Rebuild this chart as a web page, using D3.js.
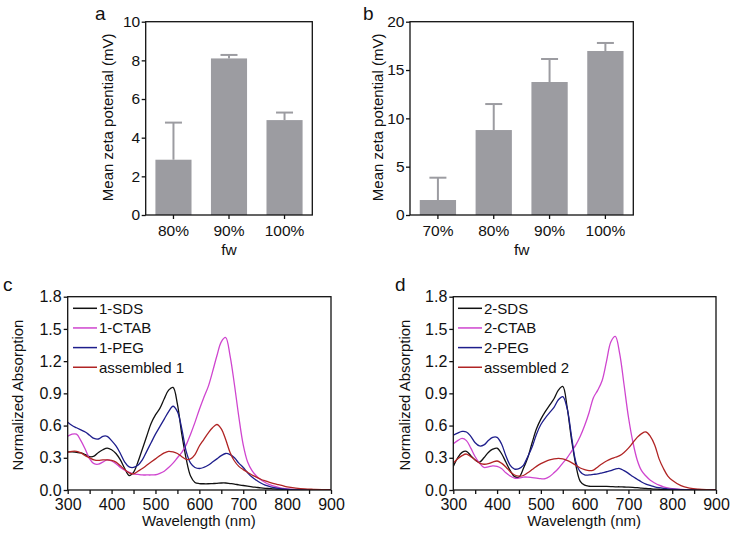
<!DOCTYPE html>
<html><head><meta charset="utf-8">
<script src="https://cdn.jsdelivr.net/npm/d3@7"></script>
<style>
html,body{margin:0;padding:0;background:#fff;}
svg text{font-family:"Liberation Sans",Arial,Helvetica,sans-serif;fill:#111;}
</style></head>
<body><svg id="chart" width="733" height="534"></svg>
<script>
// ---------- DATA ----------
const catsA = ["80%", "90%", "100%"];
const meanA = [2.86, 8.1, 4.91];
const errA  = [1.92, 0.18, 0.39];
const yTicksA = [0, 2, 4, 6, 8, 10];

const catsB = ["70%", "80%", "90%", "100%"];
const meanB = [1.55, 8.79, 13.76, 16.97];
const errB  = [2.31, 2.69, 2.38, 0.83];
const yTicksB = [0, 5, 10, 15, 20];

const wl = [300,310,320,330,340,350,360,370,380,390,400,410,420,430,440,450,460,470,480,490,500,510,520,530,540,550,560,570,580,590,600,610,620,630,640,650,660,670,680,690,700,710,720,730,740,750,760,770,780,790,800,820,840,860,880,900];

const sds1  = [0.355,0.355,0.35,0.345,0.33,0.31,0.315,0.35,0.375,0.39,0.375,0.34,0.28,0.2,0.135,0.165,0.26,0.38,0.5,0.62,0.7,0.76,0.85,0.93,0.955,0.8,0.52,0.29,0.13,0.07,0.06,0.058,0.058,0.06,0.062,0.065,0.065,0.06,0.055,0.048,0.042,0.036,0.03,0.025,0.02,0.016,0.013,0.01,0.008,0.006,0.005,0.003,0.002,0.001,0,0];
const ctab1 = [0.5,0.52,0.52,0.46,0.38,0.29,0.245,0.24,0.26,0.28,0.27,0.245,0.21,0.185,0.165,0.15,0.145,0.14,0.14,0.14,0.142,0.155,0.175,0.21,0.25,0.3,0.35,0.42,0.52,0.63,0.75,0.86,0.96,1.1,1.25,1.38,1.42,1.25,0.98,0.68,0.42,0.26,0.18,0.13,0.095,0.07,0.05,0.035,0.024,0.016,0.01,0.005,0.002,0,0,0];
const peg1  = [0.63,0.6,0.58,0.56,0.54,0.51,0.48,0.475,0.5,0.5,0.46,0.41,0.34,0.26,0.215,0.21,0.23,0.28,0.36,0.44,0.52,0.59,0.66,0.73,0.78,0.73,0.57,0.36,0.25,0.21,0.2,0.21,0.23,0.26,0.29,0.32,0.34,0.33,0.3,0.25,0.21,0.16,0.12,0.09,0.065,0.045,0.032,0.022,0.015,0.01,0.006,0.002,0,0,0,0];
const asm1  = [0.35,0.36,0.36,0.345,0.32,0.3,0.28,0.275,0.28,0.28,0.275,0.26,0.225,0.19,0.16,0.15,0.175,0.2,0.23,0.26,0.29,0.32,0.345,0.36,0.355,0.34,0.31,0.285,0.29,0.33,0.41,0.47,0.53,0.58,0.61,0.57,0.47,0.35,0.27,0.22,0.19,0.165,0.14,0.12,0.1,0.085,0.072,0.06,0.05,0.04,0.03,0.018,0.01,0.006,0.003,0.001];

const sds2  = [0.22,0.3,0.35,0.36,0.32,0.28,0.26,0.3,0.35,0.38,0.39,0.34,0.26,0.18,0.125,0.12,0.2,0.3,0.44,0.57,0.66,0.73,0.79,0.85,0.93,0.965,0.77,0.47,0.23,0.08,0.045,0.035,0.033,0.033,0.033,0.033,0.032,0.03,0.03,0.028,0.027,0.025,0.022,0.018,0.015,0.012,0.009,0.007,0.005,0.004,0.003,0.002,0.001,0,0,0];
const ctab2 = [0.43,0.46,0.48,0.46,0.39,0.31,0.25,0.21,0.215,0.225,0.22,0.2,0.16,0.13,0.11,0.11,0.12,0.12,0.115,0.11,0.105,0.105,0.125,0.16,0.2,0.25,0.3,0.36,0.42,0.5,0.6,0.72,0.86,0.93,1.02,1.2,1.38,1.43,1.27,0.98,0.68,0.45,0.28,0.18,0.13,0.09,0.065,0.045,0.03,0.02,0.013,0.006,0.002,0,0,0];
const peg2  = [0.51,0.53,0.545,0.54,0.5,0.44,0.41,0.42,0.46,0.49,0.49,0.43,0.32,0.23,0.195,0.2,0.23,0.31,0.4,0.52,0.61,0.67,0.72,0.77,0.84,0.87,0.76,0.5,0.26,0.17,0.14,0.14,0.145,0.15,0.16,0.17,0.18,0.195,0.2,0.18,0.155,0.125,0.1,0.075,0.055,0.042,0.03,0.022,0.016,0.011,0.008,0.004,0.002,0.001,0,0];
const asm2  = [0.25,0.29,0.32,0.335,0.31,0.28,0.25,0.24,0.245,0.26,0.27,0.25,0.215,0.17,0.14,0.13,0.135,0.16,0.19,0.22,0.245,0.265,0.28,0.29,0.295,0.29,0.275,0.255,0.23,0.205,0.19,0.18,0.185,0.215,0.245,0.27,0.29,0.305,0.32,0.35,0.39,0.44,0.49,0.525,0.54,0.5,0.42,0.29,0.2,0.13,0.09,0.04,0.018,0.008,0.003,0];

const namesC = ["1-SDS", "1-CTAB", "1-PEG", "assembled 1"];
const namesD = ["2-SDS", "2-CTAB", "2-PEG", "assembled 2"];
const seriesColors = ["#111111", "#cf45cf", "#1e1e8c", "#b02424"];
const xTicksSpec = [300, 400, 500, 600, 700, 800, 900];
const xMinorSpec = [350, 450, 550, 650, 750, 850];
const yTicksSpec = [0, 0.3, 0.6, 0.9, 1.2, 1.5, 1.8];

// ---------- DRAW ----------
const svg = d3.select("#chart");
const BAR = "#9c9ca1";
const FRAME_W = 1.3;

function frame(g, x0, y0, x1, y1) {
  g.append("rect").attr("x", x0).attr("y", y0).attr("width", x1 - x0).attr("height", y1 - y0)
    .attr("fill", "none").attr("stroke", "#111").attr("stroke-width", FRAME_W);
}
function styleAxis(sel, fs) {
  sel.select(".domain").remove();
  sel.selectAll(".tick line").attr("stroke", "#111").attr("stroke-width", FRAME_W);
  sel.selectAll(".tick text").attr("font-size", fs).attr("fill", "#111")
    .style("font-family", '"Liberation Sans",Arial,sans-serif');
}

function barPanel(box, cats, means, errs, yMax, yTicks, letter, letterPos, ylabX) {
  const g = svg.append("g");
  const x = d3.scaleBand().domain(cats).range([box.x0, box.x1]).paddingInner(0.35).paddingOuter(0.175);
  const y = d3.scaleLinear().domain([0, yMax]).range([box.y1, box.y0]);
  const data = cats.map((c, i) => ({c, m: means[i], e: errs[i]}));
  const capW = 17;
  g.selectAll("line.err").data(data).enter().append("line")
    .attr("x1", d => x(d.c) + x.bandwidth() / 2).attr("x2", d => x(d.c) + x.bandwidth() / 2)
    .attr("y1", d => y(d.m)).attr("y2", d => y(d.m + d.e))
    .attr("stroke", BAR).attr("stroke-width", 2);
  g.selectAll("line.cap").data(data).enter().append("line")
    .attr("x1", d => x(d.c) + x.bandwidth() / 2 - capW / 2).attr("x2", d => x(d.c) + x.bandwidth() / 2 + capW / 2)
    .attr("y1", d => y(d.m + d.e)).attr("y2", d => y(d.m + d.e))
    .attr("stroke", BAR).attr("stroke-width", 2);
  g.selectAll("rect.bar").data(data).enter().append("rect")
    .attr("x", d => x(d.c)).attr("width", x.bandwidth())
    .attr("y", d => y(d.m)).attr("height", d => y(0) - y(d.m)).attr("fill", BAR);
  const ax = g.append("g").attr("transform", `translate(0,${box.y1})`)
    .call(d3.axisBottom(x).tickSize(4).tickPadding(5.5));
  styleAxis(ax, 15.5);
  const ay = g.append("g").attr("transform", `translate(${box.x0},0)`)
    .call(d3.axisLeft(y).tickValues(yTicks).tickSize(4).tickPadding(1.5).tickFormat(d3.format("d")));
  styleAxis(ay, 15.5);
  frame(g, box.x0, box.y0, box.x1, box.y1);
  g.append("text").attr("transform", `translate(${ylabX},${(box.y0 + box.y1) / 2 - 1}) rotate(-90)`)
    .attr("text-anchor", "middle").attr("font-size", 15).text("Mean zeta potential (mV)");
  g.append("text").attr("x", (box.x0 + box.x1) / 2).attr("y", 255)
    .attr("text-anchor", "middle").attr("font-size", 15.5).text("fw");
  g.append("text").attr("x", letterPos[0]).attr("y", letterPos[1]).attr("font-size", 19).text(letter);
}

function specPanel(box, series, names, letter, letterPos, ylabX, legX) {
  const g = svg.append("g");
  const x = d3.scaleLinear().domain([300, 900]).range([box.x0, box.x1]);
  const y = d3.scaleLinear().domain([0, 1.8]).range([box.y1, box.y0]);
  const clipId = "clip" + letter;
  svg.append("clipPath").attr("id", clipId).append("rect")
    .attr("x", box.x0).attr("y", box.y0).attr("width", box.x1 - box.x0).attr("height", box.y1 - box.y0);
  const line = d3.line().x((d, i) => x(wl[i])).y(d => y(d)).curve(d3.curveCatmullRom.alpha(0.5));
  const lg = g.append("g").attr("clip-path", `url(#${clipId})`);
  series.forEach((s, k) => {
    lg.append("path").attr("d", line(s)).attr("fill", "none")
      .attr("stroke", seriesColors[k]).attr("stroke-width", 1.3).attr("stroke-linejoin", "round");
  });
  const allX = xTicksSpec.concat(xMinorSpec).sort((a, b) => a - b);
  const ax = g.append("g").attr("transform", `translate(0,${box.y1})`)
    .call(d3.axisBottom(x).tickValues(allX).tickSize(4).tickPadding(4.5)
      .tickFormat(d => xTicksSpec.includes(d) ? d : ""));
  styleAxis(ax, 16);
  const ay = g.append("g").attr("transform", `translate(${box.x0},0)`)
    .call(d3.axisLeft(y).tickValues(yTicksSpec).tickSize(4).tickPadding(2).tickFormat(d3.format(".1f")));
  styleAxis(ay, 16);
  frame(g, box.x0, box.y0, box.x1, box.y1);
  g.append("text").attr("transform", `translate(${ylabX},395) rotate(-90)`)
    .attr("text-anchor", "middle").attr("font-size", 15).text("Normalized Absorption");
  g.append("text").attr("x", (box.x0 + box.x1) / 2 - 0.5).attr("y", 525.5)
    .attr("text-anchor", "middle").attr("font-size", 15).text("Wavelength (nm)");
  g.append("text").attr("x", letterPos[0]).attr("y", letterPos[1]).attr("font-size", 19).text(letter);
  const leg = g.append("g");
  names.forEach((n, k) => {
    const yy = 308.3 + k * 19.65;
    leg.append("line").attr("x1", legX).attr("x2", legX + 24).attr("y1", yy).attr("y2", yy)
      .attr("stroke", seriesColors[k]).attr("stroke-width", 1.5);
    leg.append("text").attr("x", legX + 26).attr("y", yy).attr("dy", "0.36em")
      .attr("font-size", 15).text(n);
  });
}

barPanel({x0: 145.7, x1: 312.3, y0: 21.7, y1: 215}, catsA, meanA, errA, 10, yTicksA, "a", [95, 20], 113);
barPanel({x0: 410, x1: 633.3, y0: 21.7, y1: 215}, catsB, meanB, errB, 20, yTicksB, "b", [363, 20], 383);
specPanel({x0: 67.7, x1: 331, y0: 296.7, y1: 490}, [sds1, ctab1, peg1, asm1], namesC, "c", [3, 291], 23, 73);
specPanel({x0: 453.3, x1: 716, y0: 296.7, y1: 490}, [sds2, ctab2, peg2, asm2], namesD, "d", [395, 291], 409.5, 458);
</script></body></html>
